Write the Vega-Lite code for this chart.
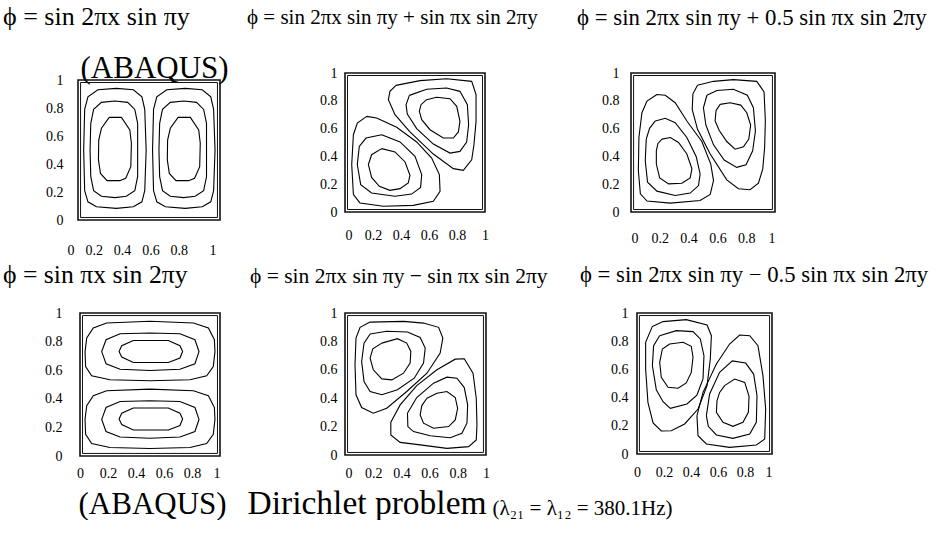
{
  "$schema": "https://vega.github.io/schema/vega-lite/v6.json",
  "background": "white",
  "padding": {"left": 3, "top": 4, "right": 0, "bottom": 0},
  "columns": 3,
  "bounds": "flush",
  "align": {"row": "each", "column": "each"},
  "spacing": {"row": 93, "column": 125},
  "config": {
    "view": {"stroke": null},
    "font": "Liberation Serif",
    "axis": {"labelFont": "Liberation Serif", "labelFontSize": 14, "labelColor": "#000", "ticks": false, "domain": false, "grid": false, "titleFont": "Liberation Serif", "titleFontWeight": "normal", "titleColor": "#000"},
    "title": {"font": "Liberation Serif", "fontWeight": "normal", "color": "#000", "anchor": "start", "frame": "group", "baseline": "alphabetic"}
  },
  "datasets": {
    "p1": [
      {"loop":"a","n":0,"x":0.27,"y":0.94},{"loop":"a","n":1,"x":0.39,"y":0.93},{"loop":"a","n":2,"x":0.45,"y":0.88},{"loop":"a","n":3,"x":0.47,"y":0.79},{"loop":"a","n":4,"x":0.48,"y":0.5},{"loop":"a","n":5,"x":0.47,"y":0.21},{"loop":"a","n":6,"x":0.45,"y":0.13},{"loop":"a","n":7,"x":0.39,"y":0.095},{"loop":"a","n":8,"x":0.27,"y":0.083},{"loop":"a","n":9,"x":0.13,"y":0.095},{"loop":"a","n":10,"x":0.07,"y":0.13},{"loop":"a","n":11,"x":0.047,"y":0.21},{"loop":"a","n":12,"x":0.04,"y":0.5},{"loop":"a","n":13,"x":0.047,"y":0.79},{"loop":"a","n":14,"x":0.07,"y":0.88},{"loop":"a","n":15,"x":0.14,"y":0.93},{"loop":"a","n":16,"x":0.27,"y":0.94},
      {"loop":"b","n":0,"x":0.26,"y":0.85},{"loop":"b","n":1,"x":0.35,"y":0.84},{"loop":"b","n":2,"x":0.4,"y":0.79},{"loop":"b","n":3,"x":0.42,"y":0.69},{"loop":"b","n":4,"x":0.42,"y":0.5},{"loop":"b","n":5,"x":0.42,"y":0.31},{"loop":"b","n":6,"x":0.4,"y":0.21},{"loop":"b","n":7,"x":0.34,"y":0.17},{"loop":"b","n":8,"x":0.26,"y":0.16},{"loop":"b","n":9,"x":0.165,"y":0.17},{"loop":"b","n":10,"x":0.11,"y":0.21},{"loop":"b","n":11,"x":0.09,"y":0.31},{"loop":"b","n":12,"x":0.085,"y":0.5},{"loop":"b","n":13,"x":0.09,"y":0.69},{"loop":"b","n":14,"x":0.11,"y":0.79},{"loop":"b","n":15,"x":0.165,"y":0.84},{"loop":"b","n":16,"x":0.26,"y":0.85},
      {"loop":"c","n":0,"x":0.22,"y":0.733},{"loop":"c","n":1,"x":0.306,"y":0.733},{"loop":"c","n":2,"x":0.365,"y":0.643},{"loop":"c","n":3,"x":0.376,"y":0.548},{"loop":"c","n":4,"x":0.372,"y":0.381},{"loop":"c","n":5,"x":0.336,"y":0.298},{"loop":"c","n":6,"x":0.294,"y":0.281},{"loop":"c","n":7,"x":0.205,"y":0.281},{"loop":"c","n":8,"x":0.158,"y":0.333},{"loop":"c","n":9,"x":0.144,"y":0.429},{"loop":"c","n":10,"x":0.146,"y":0.571},{"loop":"c","n":11,"x":0.165,"y":0.655},{"loop":"c","n":12,"x":0.22,"y":0.733},
      {"loop":"d","n":0,"x":0.755,"y":0.94},{"loop":"d","n":1,"x":0.875,"y":0.93},{"loop":"d","n":2,"x":0.935,"y":0.88},{"loop":"d","n":3,"x":0.955,"y":0.79},{"loop":"d","n":4,"x":0.965,"y":0.5},{"loop":"d","n":5,"x":0.955,"y":0.21},{"loop":"d","n":6,"x":0.935,"y":0.13},{"loop":"d","n":7,"x":0.875,"y":0.095},{"loop":"d","n":8,"x":0.755,"y":0.083},{"loop":"d","n":9,"x":0.615,"y":0.095},{"loop":"d","n":10,"x":0.555,"y":0.13},{"loop":"d","n":11,"x":0.532,"y":0.21},{"loop":"d","n":12,"x":0.525,"y":0.5},{"loop":"d","n":13,"x":0.532,"y":0.79},{"loop":"d","n":14,"x":0.555,"y":0.88},{"loop":"d","n":15,"x":0.625,"y":0.93},{"loop":"d","n":16,"x":0.755,"y":0.94},
      {"loop":"e","n":0,"x":0.745,"y":0.85},{"loop":"e","n":1,"x":0.835,"y":0.84},{"loop":"e","n":2,"x":0.885,"y":0.79},{"loop":"e","n":3,"x":0.905,"y":0.69},{"loop":"e","n":4,"x":0.905,"y":0.5},{"loop":"e","n":5,"x":0.905,"y":0.31},{"loop":"e","n":6,"x":0.885,"y":0.21},{"loop":"e","n":7,"x":0.825,"y":0.17},{"loop":"e","n":8,"x":0.745,"y":0.16},{"loop":"e","n":9,"x":0.65,"y":0.17},{"loop":"e","n":10,"x":0.595,"y":0.21},{"loop":"e","n":11,"x":0.575,"y":0.31},{"loop":"e","n":12,"x":0.57,"y":0.5},{"loop":"e","n":13,"x":0.575,"y":0.69},{"loop":"e","n":14,"x":0.595,"y":0.79},{"loop":"e","n":15,"x":0.65,"y":0.84},{"loop":"e","n":16,"x":0.745,"y":0.85},
      {"loop":"f","n":0,"x":0.705,"y":0.733},{"loop":"f","n":1,"x":0.791,"y":0.733},{"loop":"f","n":2,"x":0.85,"y":0.643},{"loop":"f","n":3,"x":0.861,"y":0.548},{"loop":"f","n":4,"x":0.857,"y":0.381},{"loop":"f","n":5,"x":0.821,"y":0.298},{"loop":"f","n":6,"x":0.779,"y":0.281},{"loop":"f","n":7,"x":0.69,"y":0.281},{"loop":"f","n":8,"x":0.643,"y":0.333},{"loop":"f","n":9,"x":0.629,"y":0.429},{"loop":"f","n":10,"x":0.631,"y":0.571},{"loop":"f","n":11,"x":0.65,"y":0.655},{"loop":"f","n":12,"x":0.705,"y":0.733}
    ],
    "p2": [
      {"loop":"a","n":0,"x":0.155,"y":0.688},{"loop":"a","n":1,"x":0.226,"y":0.676},{"loop":"a","n":2,"x":0.369,"y":0.609},{"loop":"a","n":3,"x":0.512,"y":0.504},{"loop":"a","n":4,"x":0.619,"y":0.388},{"loop":"a","n":5,"x":0.674,"y":0.269},{"loop":"a","n":6,"x":0.679,"y":0.149},{"loop":"a","n":7,"x":0.631,"y":0.077},{"loop":"a","n":8,"x":0.488,"y":0.048},{"loop":"a","n":9,"x":0.274,"y":0.041},{"loop":"a","n":10,"x":0.107,"y":0.065},{"loop":"a","n":11,"x":0.06,"y":0.125},{"loop":"a","n":12,"x":0.048,"y":0.341},{"loop":"a","n":13,"x":0.06,"y":0.556},{"loop":"a","n":14,"x":0.088,"y":0.64},{"loop":"a","n":15,"x":0.155,"y":0.688},
      {"loop":"b","n":0,"x":0.262,"y":0.556},{"loop":"b","n":1,"x":0.393,"y":0.504},{"loop":"b","n":2,"x":0.5,"y":0.4},{"loop":"b","n":3,"x":0.548,"y":0.269},{"loop":"b","n":4,"x":0.54,"y":0.177},{"loop":"b","n":5,"x":0.476,"y":0.129},{"loop":"b","n":6,"x":0.357,"y":0.113},{"loop":"b","n":7,"x":0.19,"y":0.137},{"loop":"b","n":8,"x":0.112,"y":0.197},{"loop":"b","n":9,"x":0.088,"y":0.341},{"loop":"b","n":10,"x":0.102,"y":0.472},{"loop":"b","n":11,"x":0.15,"y":0.532},{"loop":"b","n":12,"x":0.262,"y":0.556},
      {"loop":"c","n":0,"x":0.262,"y":0.456},{"loop":"c","n":1,"x":0.357,"y":0.432},{"loop":"c","n":2,"x":0.429,"y":0.36},{"loop":"c","n":3,"x":0.464,"y":0.264},{"loop":"c","n":4,"x":0.452,"y":0.209},{"loop":"c","n":5,"x":0.393,"y":0.168},{"loop":"c","n":6,"x":0.321,"y":0.156},{"loop":"c","n":7,"x":0.245,"y":0.185},{"loop":"c","n":8,"x":0.19,"y":0.249},{"loop":"c","n":9,"x":0.167,"y":0.341},{"loop":"c","n":10,"x":0.19,"y":0.412},{"loop":"c","n":11,"x":0.262,"y":0.456},
      {"loop":"d","n":0,"x":0.364,"y":0.911},{"loop":"d","n":1,"x":0.536,"y":0.945},{"loop":"d","n":2,"x":0.726,"y":0.959},{"loop":"d","n":3,"x":0.905,"y":0.94},{"loop":"d","n":4,"x":0.936,"y":0.844},{"loop":"d","n":5,"x":0.936,"y":0.652},{"loop":"d","n":6,"x":0.921,"y":0.484},{"loop":"d","n":7,"x":0.905,"y":0.376},{"loop":"d","n":8,"x":0.845,"y":0.3},{"loop":"d","n":9,"x":0.774,"y":0.312},{"loop":"d","n":10,"x":0.631,"y":0.417},{"loop":"d","n":11,"x":0.464,"y":0.576},{"loop":"d","n":12,"x":0.357,"y":0.7},{"loop":"d","n":13,"x":0.31,"y":0.808},{"loop":"d","n":14,"x":0.321,"y":0.868},{"loop":"d","n":15,"x":0.364,"y":0.911},
      {"loop":"e","n":0,"x":0.46,"y":0.839},{"loop":"e","n":1,"x":0.583,"y":0.883},{"loop":"e","n":2,"x":0.726,"y":0.892},{"loop":"e","n":3,"x":0.821,"y":0.868},{"loop":"e","n":4,"x":0.874,"y":0.772},{"loop":"e","n":5,"x":0.883,"y":0.628},{"loop":"e","n":6,"x":0.869,"y":0.504},{"loop":"e","n":7,"x":0.821,"y":0.436},{"loop":"e","n":8,"x":0.75,"y":0.424},{"loop":"e","n":9,"x":0.631,"y":0.489},{"loop":"e","n":10,"x":0.512,"y":0.6},{"loop":"e","n":11,"x":0.445,"y":0.705},{"loop":"e","n":12,"x":0.436,"y":0.772},{"loop":"e","n":13,"x":0.46,"y":0.839},
      {"loop":"f","n":0,"x":0.583,"y":0.808},{"loop":"f","n":1,"x":0.655,"y":0.825},{"loop":"f","n":2,"x":0.75,"y":0.815},{"loop":"f","n":3,"x":0.798,"y":0.76},{"loop":"f","n":4,"x":0.821,"y":0.652},{"loop":"f","n":5,"x":0.81,"y":0.576},{"loop":"f","n":6,"x":0.774,"y":0.532},{"loop":"f","n":7,"x":0.702,"y":0.532},{"loop":"f","n":8,"x":0.607,"y":0.592},{"loop":"f","n":9,"x":0.548,"y":0.664},{"loop":"f","n":10,"x":0.531,"y":0.724},{"loop":"f","n":11,"x":0.543,"y":0.772},{"loop":"f","n":12,"x":0.583,"y":0.808}
    ],
    "p3": [
      {"loop":"a","n":0,"x":0.18,"y":0.845},{"loop":"a","n":1,"x":0.238,"y":0.84},{"loop":"a","n":2,"x":0.307,"y":0.786},{"loop":"a","n":3,"x":0.388,"y":0.655},{"loop":"a","n":4,"x":0.492,"y":0.507},{"loop":"a","n":5,"x":0.554,"y":0.345},{"loop":"a","n":6,"x":0.573,"y":0.226},{"loop":"a","n":7,"x":0.55,"y":0.126},{"loop":"a","n":8,"x":0.48,"y":0.083},{"loop":"a","n":9,"x":0.273,"y":0.064},{"loop":"a","n":10,"x":0.111,"y":0.079},{"loop":"a","n":11,"x":0.065,"y":0.131},{"loop":"a","n":12,"x":0.051,"y":0.298},{"loop":"a","n":13,"x":0.055,"y":0.536},{"loop":"a","n":14,"x":0.076,"y":0.714},{"loop":"a","n":15,"x":0.111,"y":0.798},{"loop":"a","n":16,"x":0.18,"y":0.845},
      {"loop":"b","n":0,"x":0.169,"y":0.655},{"loop":"b","n":1,"x":0.238,"y":0.674},{"loop":"b","n":2,"x":0.307,"y":0.643},{"loop":"b","n":3,"x":0.388,"y":0.536},{"loop":"b","n":4,"x":0.453,"y":0.398},{"loop":"b","n":5,"x":0.48,"y":0.274},{"loop":"b","n":6,"x":0.469,"y":0.19},{"loop":"b","n":7,"x":0.411,"y":0.136},{"loop":"b","n":8,"x":0.307,"y":0.119},{"loop":"b","n":9,"x":0.18,"y":0.15},{"loop":"b","n":10,"x":0.115,"y":0.214},{"loop":"b","n":11,"x":0.099,"y":0.369},{"loop":"b","n":12,"x":0.106,"y":0.524},{"loop":"b","n":13,"x":0.129,"y":0.602},{"loop":"b","n":14,"x":0.169,"y":0.655},
      {"loop":"c","n":0,"x":0.215,"y":0.524},{"loop":"c","n":1,"x":0.273,"y":0.536},{"loop":"c","n":2,"x":0.33,"y":0.5},{"loop":"c","n":3,"x":0.388,"y":0.417},{"loop":"c","n":4,"x":0.423,"y":0.31},{"loop":"c","n":5,"x":0.411,"y":0.245},{"loop":"c","n":6,"x":0.353,"y":0.207},{"loop":"c","n":7,"x":0.261,"y":0.202},{"loop":"c","n":8,"x":0.199,"y":0.245},{"loop":"c","n":9,"x":0.176,"y":0.345},{"loop":"c","n":10,"x":0.176,"y":0.44},{"loop":"c","n":11,"x":0.187,"y":0.493},{"loop":"c","n":12,"x":0.215,"y":0.524},
      {"loop":"d","n":0,"x":0.462,"y":0.912},{"loop":"d","n":1,"x":0.573,"y":0.94},{"loop":"d","n":2,"x":0.711,"y":0.952},{"loop":"d","n":3,"x":0.873,"y":0.94},{"loop":"d","n":4,"x":0.924,"y":0.864},{"loop":"d","n":5,"x":0.933,"y":0.655},{"loop":"d","n":6,"x":0.928,"y":0.464},{"loop":"d","n":7,"x":0.915,"y":0.31},{"loop":"d","n":8,"x":0.885,"y":0.207},{"loop":"d","n":9,"x":0.827,"y":0.16},{"loop":"d","n":10,"x":0.746,"y":0.167},{"loop":"d","n":11,"x":0.665,"y":0.231},{"loop":"d","n":12,"x":0.55,"y":0.417},{"loop":"d","n":13,"x":0.462,"y":0.595},{"loop":"d","n":14,"x":0.425,"y":0.738},{"loop":"d","n":15,"x":0.43,"y":0.85},{"loop":"d","n":16,"x":0.462,"y":0.912},
      {"loop":"e","n":0,"x":0.527,"y":0.84},{"loop":"e","n":1,"x":0.596,"y":0.874},{"loop":"e","n":2,"x":0.711,"y":0.883},{"loop":"e","n":3,"x":0.808,"y":0.84},{"loop":"e","n":4,"x":0.85,"y":0.75},{"loop":"e","n":5,"x":0.864,"y":0.583},{"loop":"e","n":6,"x":0.845,"y":0.44},{"loop":"e","n":7,"x":0.799,"y":0.34},{"loop":"e","n":8,"x":0.734,"y":0.321},{"loop":"e","n":9,"x":0.647,"y":0.374},{"loop":"e","n":10,"x":0.573,"y":0.483},{"loop":"e","n":11,"x":0.52,"y":0.626},{"loop":"e","n":12,"x":0.503,"y":0.75},{"loop":"e","n":13,"x":0.527,"y":0.84},
      {"loop":"f","n":0,"x":0.619,"y":0.774},{"loop":"f","n":1,"x":0.688,"y":0.786},{"loop":"f","n":2,"x":0.762,"y":0.769},{"loop":"f","n":3,"x":0.804,"y":0.714},{"loop":"f","n":4,"x":0.831,"y":0.626},{"loop":"f","n":5,"x":0.818,"y":0.524},{"loop":"f","n":6,"x":0.781,"y":0.469},{"loop":"f","n":7,"x":0.723,"y":0.452},{"loop":"f","n":8,"x":0.665,"y":0.507},{"loop":"f","n":9,"x":0.612,"y":0.588},{"loop":"f","n":10,"x":0.584,"y":0.655},{"loop":"f","n":11,"x":0.591,"y":0.731},{"loop":"f","n":12,"x":0.619,"y":0.774}
    ],
    "p4": [
      {"loop":"a","n":0,"x":0.5,"y":0.942},{"loop":"a","n":1,"x":0.81,"y":0.93},{"loop":"a","n":2,"x":0.917,"y":0.895},{"loop":"a","n":3,"x":0.96,"y":0.813},{"loop":"a","n":4,"x":0.964,"y":0.73},{"loop":"a","n":5,"x":0.952,"y":0.626},{"loop":"a","n":6,"x":0.905,"y":0.561},{"loop":"a","n":7,"x":0.786,"y":0.533},{"loop":"a","n":8,"x":0.5,"y":0.526},{"loop":"a","n":9,"x":0.214,"y":0.533},{"loop":"a","n":10,"x":0.083,"y":0.561},{"loop":"a","n":11,"x":0.04,"y":0.626},{"loop":"a","n":12,"x":0.036,"y":0.73},{"loop":"a","n":13,"x":0.048,"y":0.825},{"loop":"a","n":14,"x":0.095,"y":0.895},{"loop":"a","n":15,"x":0.19,"y":0.93},{"loop":"a","n":16,"x":0.5,"y":0.942},
      {"loop":"b","n":0,"x":0.5,"y":0.86},{"loop":"b","n":1,"x":0.714,"y":0.855},{"loop":"b","n":2,"x":0.821,"y":0.813},{"loop":"b","n":3,"x":0.85,"y":0.73},{"loop":"b","n":4,"x":0.821,"y":0.645},{"loop":"b","n":5,"x":0.714,"y":0.607},{"loop":"b","n":6,"x":0.5,"y":0.598},{"loop":"b","n":7,"x":0.286,"y":0.607},{"loop":"b","n":8,"x":0.186,"y":0.645},{"loop":"b","n":9,"x":0.155,"y":0.73},{"loop":"b","n":10,"x":0.186,"y":0.813},{"loop":"b","n":11,"x":0.286,"y":0.855},{"loop":"b","n":12,"x":0.5,"y":0.86},
      {"loop":"c","n":0,"x":0.381,"y":0.808},{"loop":"c","n":1,"x":0.631,"y":0.808},{"loop":"c","n":2,"x":0.714,"y":0.771},{"loop":"c","n":3,"x":0.733,"y":0.731},{"loop":"c","n":4,"x":0.714,"y":0.685},{"loop":"c","n":5,"x":0.631,"y":0.654},{"loop":"c","n":6,"x":0.381,"y":0.654},{"loop":"c","n":7,"x":0.298,"y":0.692},{"loop":"c","n":8,"x":0.279,"y":0.731},{"loop":"c","n":9,"x":0.298,"y":0.771},{"loop":"c","n":10,"x":0.381,"y":0.808},
      {"loop":"d","n":0,"x":0.5,"y":0.468},{"loop":"d","n":1,"x":0.81,"y":0.456},{"loop":"d","n":2,"x":0.917,"y":0.421},{"loop":"d","n":3,"x":0.96,"y":0.339},{"loop":"d","n":4,"x":0.964,"y":0.256},{"loop":"d","n":5,"x":0.952,"y":0.152},{"loop":"d","n":6,"x":0.905,"y":0.087},{"loop":"d","n":7,"x":0.786,"y":0.059},{"loop":"d","n":8,"x":0.5,"y":0.052},{"loop":"d","n":9,"x":0.214,"y":0.059},{"loop":"d","n":10,"x":0.083,"y":0.087},{"loop":"d","n":11,"x":0.04,"y":0.152},{"loop":"d","n":12,"x":0.036,"y":0.256},{"loop":"d","n":13,"x":0.048,"y":0.351},{"loop":"d","n":14,"x":0.095,"y":0.421},{"loop":"d","n":15,"x":0.19,"y":0.456},{"loop":"d","n":16,"x":0.5,"y":0.468},
      {"loop":"e","n":0,"x":0.5,"y":0.386},{"loop":"e","n":1,"x":0.714,"y":0.381},{"loop":"e","n":2,"x":0.821,"y":0.339},{"loop":"e","n":3,"x":0.85,"y":0.256},{"loop":"e","n":4,"x":0.821,"y":0.171},{"loop":"e","n":5,"x":0.714,"y":0.133},{"loop":"e","n":6,"x":0.5,"y":0.124},{"loop":"e","n":7,"x":0.286,"y":0.133},{"loop":"e","n":8,"x":0.186,"y":0.171},{"loop":"e","n":9,"x":0.155,"y":0.256},{"loop":"e","n":10,"x":0.186,"y":0.339},{"loop":"e","n":11,"x":0.286,"y":0.381},{"loop":"e","n":12,"x":0.5,"y":0.386},
      {"loop":"f","n":0,"x":0.381,"y":0.336},{"loop":"f","n":1,"x":0.631,"y":0.336},{"loop":"f","n":2,"x":0.714,"y":0.299},{"loop":"f","n":3,"x":0.733,"y":0.259},{"loop":"f","n":4,"x":0.714,"y":0.213},{"loop":"f","n":5,"x":0.631,"y":0.182},{"loop":"f","n":6,"x":0.381,"y":0.182},{"loop":"f","n":7,"x":0.298,"y":0.22},{"loop":"f","n":8,"x":0.279,"y":0.259},{"loop":"f","n":9,"x":0.298,"y":0.299},{"loop":"f","n":10,"x":0.381,"y":0.336}
    ],
    "p5": [
      {"loop":"a","n":0,"x":0.178,"y":0.936},{"loop":"a","n":1,"x":0.415,"y":0.941},{"loop":"a","n":2,"x":0.557,"y":0.929},{"loop":"a","n":3,"x":0.664,"y":0.899},{"loop":"a","n":4,"x":0.694,"y":0.824},{"loop":"a","n":5,"x":0.675,"y":0.718},{"loop":"a","n":6,"x":0.581,"y":0.576},{"loop":"a","n":7,"x":0.438,"y":0.447},{"loop":"a","n":8,"x":0.296,"y":0.329},{"loop":"a","n":9,"x":0.201,"y":0.294},{"loop":"a","n":10,"x":0.118,"y":0.334},{"loop":"a","n":11,"x":0.078,"y":0.424},{"loop":"a","n":12,"x":0.071,"y":0.635},{"loop":"a","n":13,"x":0.078,"y":0.824},{"loop":"a","n":14,"x":0.107,"y":0.899},{"loop":"a","n":15,"x":0.178,"y":0.936},
      {"loop":"b","n":0,"x":0.178,"y":0.852},{"loop":"b","n":1,"x":0.296,"y":0.871},{"loop":"b","n":2,"x":0.443,"y":0.866},{"loop":"b","n":3,"x":0.533,"y":0.828},{"loop":"b","n":4,"x":0.569,"y":0.753},{"loop":"b","n":5,"x":0.557,"y":0.647},{"loop":"b","n":6,"x":0.491,"y":0.541},{"loop":"b","n":7,"x":0.372,"y":0.459},{"loop":"b","n":8,"x":0.261,"y":0.424},{"loop":"b","n":9,"x":0.178,"y":0.447},{"loop":"b","n":10,"x":0.135,"y":0.518},{"loop":"b","n":11,"x":0.118,"y":0.659},{"loop":"b","n":12,"x":0.135,"y":0.788},{"loop":"b","n":13,"x":0.178,"y":0.852},
      {"loop":"c","n":0,"x":0.261,"y":0.788},{"loop":"c","n":1,"x":0.372,"y":0.819},{"loop":"c","n":2,"x":0.438,"y":0.788},{"loop":"c","n":3,"x":0.467,"y":0.729},{"loop":"c","n":4,"x":0.462,"y":0.647},{"loop":"c","n":5,"x":0.415,"y":0.576},{"loop":"c","n":6,"x":0.332,"y":0.529},{"loop":"c","n":7,"x":0.261,"y":0.536},{"loop":"c","n":8,"x":0.201,"y":0.6},{"loop":"c","n":9,"x":0.178,"y":0.682},{"loop":"c","n":10,"x":0.197,"y":0.748},{"loop":"c","n":11,"x":0.261,"y":0.788},
      {"loop":"d","n":0,"x":0.325,"y":0.231},{"loop":"d","n":1,"x":0.391,"y":0.353},{"loop":"d","n":2,"x":0.509,"y":0.489},{"loop":"d","n":3,"x":0.652,"y":0.6},{"loop":"d","n":4,"x":0.782,"y":0.675},{"loop":"d","n":5,"x":0.846,"y":0.678},{"loop":"d","n":6,"x":0.908,"y":0.576},{"loop":"d","n":7,"x":0.931,"y":0.4},{"loop":"d","n":8,"x":0.936,"y":0.212},{"loop":"d","n":9,"x":0.931,"y":0.106},{"loop":"d","n":10,"x":0.877,"y":0.059},{"loop":"d","n":11,"x":0.723,"y":0.047},{"loop":"d","n":12,"x":0.533,"y":0.071},{"loop":"d","n":13,"x":0.391,"y":0.089},{"loop":"d","n":14,"x":0.325,"y":0.141},{"loop":"d","n":15,"x":0.325,"y":0.231},
      {"loop":"e","n":0,"x":0.443,"y":0.294},{"loop":"e","n":1,"x":0.509,"y":0.405},{"loop":"e","n":2,"x":0.628,"y":0.506},{"loop":"e","n":3,"x":0.723,"y":0.548},{"loop":"e","n":4,"x":0.794,"y":0.541},{"loop":"e","n":5,"x":0.846,"y":0.475},{"loop":"e","n":6,"x":0.87,"y":0.353},{"loop":"e","n":7,"x":0.865,"y":0.224},{"loop":"e","n":8,"x":0.829,"y":0.153},{"loop":"e","n":9,"x":0.746,"y":0.122},{"loop":"e","n":10,"x":0.604,"y":0.136},{"loop":"e","n":11,"x":0.486,"y":0.165},{"loop":"e","n":12,"x":0.446,"y":0.2},{"loop":"e","n":13,"x":0.443,"y":0.294},
      {"loop":"f","n":0,"x":0.581,"y":0.4},{"loop":"f","n":1,"x":0.652,"y":0.435},{"loop":"f","n":2,"x":0.723,"y":0.447},{"loop":"f","n":3,"x":0.782,"y":0.405},{"loop":"f","n":4,"x":0.799,"y":0.329},{"loop":"f","n":5,"x":0.782,"y":0.247},{"loop":"f","n":6,"x":0.735,"y":0.2},{"loop":"f","n":7,"x":0.628,"y":0.188},{"loop":"f","n":8,"x":0.557,"y":0.224},{"loop":"f","n":9,"x":0.533,"y":0.282},{"loop":"f","n":10,"x":0.545,"y":0.348},{"loop":"f","n":11,"x":0.581,"y":0.4}
    ],
    "p6": [
      {"loop":"a","n":0,"x":0.114,"y":0.905},{"loop":"a","n":1,"x":0.193,"y":0.939},{"loop":"a","n":2,"x":0.365,"y":0.953},{"loop":"a","n":3,"x":0.519,"y":0.915},{"loop":"a","n":4,"x":0.551,"y":0.839},{"loop":"a","n":5,"x":0.543,"y":0.674},{"loop":"a","n":6,"x":0.519,"y":0.485},{"loop":"a","n":7,"x":0.452,"y":0.319},{"loop":"a","n":8,"x":0.353,"y":0.213},{"loop":"a","n":9,"x":0.254,"y":0.165},{"loop":"a","n":10,"x":0.18,"y":0.163},{"loop":"a","n":11,"x":0.119,"y":0.22},{"loop":"a","n":12,"x":0.081,"y":0.366},{"loop":"a","n":13,"x":0.064,"y":0.603},{"loop":"a","n":14,"x":0.064,"y":0.792},{"loop":"a","n":15,"x":0.114,"y":0.905},
      {"loop":"b","n":0,"x":0.168,"y":0.839},{"loop":"b","n":1,"x":0.291,"y":0.875},{"loop":"b","n":2,"x":0.415,"y":0.868},{"loop":"b","n":3,"x":0.469,"y":0.816},{"loop":"b","n":4,"x":0.496,"y":0.697},{"loop":"b","n":5,"x":0.489,"y":0.532},{"loop":"b","n":6,"x":0.444,"y":0.418},{"loop":"b","n":7,"x":0.37,"y":0.355},{"loop":"b","n":8,"x":0.247,"y":0.324},{"loop":"b","n":9,"x":0.193,"y":0.371},{"loop":"b","n":10,"x":0.143,"y":0.456},{"loop":"b","n":11,"x":0.114,"y":0.626},{"loop":"b","n":12,"x":0.123,"y":0.768},{"loop":"b","n":13,"x":0.168,"y":0.839},
      {"loop":"c","n":0,"x":0.242,"y":0.78},{"loop":"c","n":1,"x":0.341,"y":0.792},{"loop":"c","n":2,"x":0.402,"y":0.764},{"loop":"c","n":3,"x":0.415,"y":0.686},{"loop":"c","n":4,"x":0.402,"y":0.579},{"loop":"c","n":5,"x":0.365,"y":0.504},{"loop":"c","n":6,"x":0.304,"y":0.466},{"loop":"c","n":7,"x":0.23,"y":0.473},{"loop":"c","n":8,"x":0.18,"y":0.544},{"loop":"c","n":9,"x":0.168,"y":0.65},{"loop":"c","n":10,"x":0.188,"y":0.745},{"loop":"c","n":11,"x":0.242,"y":0.78},
      {"loop":"d","n":0,"x":0.444,"y":0.272},{"loop":"d","n":1,"x":0.489,"y":0.437},{"loop":"d","n":2,"x":0.588,"y":0.638},{"loop":"d","n":3,"x":0.686,"y":0.78},{"loop":"d","n":4,"x":0.76,"y":0.844},{"loop":"d","n":5,"x":0.835,"y":0.839},{"loop":"d","n":6,"x":0.896,"y":0.768},{"loop":"d","n":7,"x":0.933,"y":0.556},{"loop":"d","n":8,"x":0.953,"y":0.319},{"loop":"d","n":9,"x":0.946,"y":0.106},{"loop":"d","n":10,"x":0.884,"y":0.064},{"loop":"d","n":11,"x":0.686,"y":0.047},{"loop":"d","n":12,"x":0.514,"y":0.071},{"loop":"d","n":13,"x":0.452,"y":0.13},{"loop":"d","n":14,"x":0.444,"y":0.272},
      {"loop":"e","n":0,"x":0.514,"y":0.272},{"loop":"e","n":1,"x":0.538,"y":0.426},{"loop":"e","n":2,"x":0.612,"y":0.579},{"loop":"e","n":3,"x":0.706,"y":0.66},{"loop":"e","n":4,"x":0.805,"y":0.645},{"loop":"e","n":5,"x":0.864,"y":0.567},{"loop":"e","n":6,"x":0.889,"y":0.414},{"loop":"e","n":7,"x":0.884,"y":0.225},{"loop":"e","n":8,"x":0.835,"y":0.142},{"loop":"e","n":9,"x":0.711,"y":0.111},{"loop":"e","n":10,"x":0.588,"y":0.135},{"loop":"e","n":11,"x":0.528,"y":0.196},{"loop":"e","n":12,"x":0.514,"y":0.272},
      {"loop":"f","n":0,"x":0.649,"y":0.485},{"loop":"f","n":1,"x":0.723,"y":0.532},{"loop":"f","n":2,"x":0.798,"y":0.508},{"loop":"f","n":3,"x":0.83,"y":0.409},{"loop":"f","n":4,"x":0.825,"y":0.296},{"loop":"f","n":5,"x":0.785,"y":0.225},{"loop":"f","n":6,"x":0.711,"y":0.196},{"loop":"f","n":7,"x":0.637,"y":0.225},{"loop":"f","n":8,"x":0.588,"y":0.296},{"loop":"f","n":9,"x":0.593,"y":0.378},{"loop":"f","n":10,"x":0.612,"y":0.437},{"loop":"f","n":11,"x":0.649,"y":0.485}
    ]
  },
  "concat": [
    {
      "width": 142, "height": 147,
      "title": {"text": "ϕ = sin 2πx sin πy", "fontSize": 26, "dx": -75, "offset": 22},
      "layer": [
        {"data": {"values": [{}]}, "mark": {"type": "rect", "filled": false, "color": "#111", "strokeWidth": 1.6},
         "encoding": {
           "x": {"datum": 0, "type": "quantitative", "scale": {"domain": [0, 1], "nice": false}, "axis": {"values": [0, 0.2, 0.4, 0.6, 0.8, 1], "format": "~g", "title": null, "labelPadding": 23, "labelAlign": "right", "labelOffset": -4}},
           "x2": {"datum": 1},
           "y": {"datum": 0, "type": "quantitative", "scale": {"domain": [0, 1.05], "nice": false}, "axis": {"values": [0, 0.2, 0.4, 0.6, 0.8, 1], "format": "~g", "labelPadding": 15, "title": "(ABAQUS)", "titleAngle": 0, "titleFontSize": 31, "titleAlign": "left", "titleBaseline": "alphabetic", "titleX": 2, "titleY": 4}},
           "y2": {"datum": 1}}},
        {"data": {"values": [{}]}, "mark": {"type": "rect", "filled": false, "color": "#111", "strokeWidth": 1},
         "encoding": {
           "x": {"datum": 0.018, "type": "quantitative", "scale": {"domain": [0, 1], "nice": false}, "axis": {"values": [0, 0.2, 0.4, 0.6, 0.8, 1], "format": "~g", "title": null, "labelPadding": 23, "labelAlign": "right", "labelOffset": -4}},
           "x2": {"datum": 0.982},
           "y": {"datum": 0.018, "type": "quantitative", "scale": {"domain": [0, 1.05], "nice": false}, "axis": {"values": [0, 0.2, 0.4, 0.6, 0.8, 1], "format": "~g", "labelPadding": 15, "title": "(ABAQUS)", "titleAngle": 0, "titleFontSize": 31, "titleAlign": "left", "titleBaseline": "alphabetic", "titleX": 2, "titleY": 4}},
           "y2": {"datum": 0.982}}},
        {"data": {"name": "p1"}, "mark": {"type": "line", "color": "#000", "strokeWidth": 1.1},
         "encoding": {
           "x": {"field": "x", "type": "quantitative", "scale": {"domain": [0, 1], "nice": false}, "axis": {"values": [0, 0.2, 0.4, 0.6, 0.8, 1], "format": "~g", "title": null, "labelPadding": 23, "labelAlign": "right", "labelOffset": -4}},
           "y": {"field": "y", "type": "quantitative", "scale": {"domain": [0, 1.05], "nice": false}, "axis": {"values": [0, 0.2, 0.4, 0.6, 0.8, 1], "format": "~g", "labelPadding": 15, "title": "(ABAQUS)", "titleAngle": 0, "titleFontSize": 31, "titleAlign": "left", "titleBaseline": "alphabetic", "titleX": 2, "titleY": 4}},
           "detail": {"field": "loop"}, "order": {"field": "n"}}}
      ]
    },
    {
      "width": 161, "height": 139,
      "title": {"text": "ϕ = sin 2πx sin πy + sin πx sin 2πy", "fontSize": 21, "dx": -98, "offset": 38},
      "layer": [
        {"data": {"values": [{}]}, "mark": {"type": "rect", "filled": false, "color": "#111", "strokeWidth": 1.6},
         "encoding": {
           "x": {"datum": 0, "type": "quantitative", "scale": {"domain": [0, 1.15], "nice": false}, "axis": {"values": [0, 0.2, 0.4, 0.6, 0.8, 1], "format": "~g", "title": null, "labelPadding": 16}},
           "x2": {"datum": 1},
           "y": {"datum": 0, "type": "quantitative", "scale": {"domain": [0, 1], "nice": false}, "axis": {"values": [0, 0.2, 0.4, 0.6, 0.8, 1], "format": "~g", "title": null, "labelPadding": 8}},
           "y2": {"datum": 1}}},
        {"data": {"values": [{}]}, "mark": {"type": "rect", "filled": false, "color": "#111", "strokeWidth": 1},
         "encoding": {
           "x": {"datum": 0.018, "type": "quantitative", "scale": {"domain": [0, 1.15], "nice": false}, "axis": {"values": [0, 0.2, 0.4, 0.6, 0.8, 1], "format": "~g", "title": null, "labelPadding": 16}},
           "x2": {"datum": 0.982},
           "y": {"datum": 0.018, "type": "quantitative", "scale": {"domain": [0, 1], "nice": false}, "axis": {"values": [0, 0.2, 0.4, 0.6, 0.8, 1], "format": "~g", "title": null, "labelPadding": 8}},
           "y2": {"datum": 0.982}}},
        {"data": {"name": "p2"}, "mark": {"type": "line", "color": "#000", "strokeWidth": 1.1},
         "encoding": {
           "x": {"field": "x", "type": "quantitative", "scale": {"domain": [0, 1.15], "nice": false}, "axis": {"values": [0, 0.2, 0.4, 0.6, 0.8, 1], "format": "~g", "title": null, "labelPadding": 16}},
           "y": {"field": "y", "type": "quantitative", "scale": {"domain": [0, 1], "nice": false}, "axis": {"values": [0, 0.2, 0.4, 0.6, 0.8, 1], "format": "~g", "title": null, "labelPadding": 8}},
           "detail": {"field": "loop"}, "order": {"field": "n"}}}
      ]
    },
    {
      "width": 144, "height": 139,
      "title": {"text": "ϕ = sin 2πx sin πy + 0.5 sin πx sin 2πy", "fontSize": 22.8, "dx": -54, "offset": 36},
      "layer": [
        {"data": {"values": [{}]}, "mark": {"type": "rect", "filled": false, "color": "#111", "strokeWidth": 1.6},
         "encoding": {
           "x": {"datum": 0, "type": "quantitative", "scale": {"domain": [0, 1], "nice": false}, "axis": {"values": [0, 0.2, 0.4, 0.6, 0.8, 1], "format": "~g", "title": null, "labelPadding": 19}},
           "x2": {"datum": 1},
           "y": {"datum": 0, "type": "quantitative", "scale": {"domain": [0, 1], "nice": false}, "axis": {"values": [0, 0.2, 0.4, 0.6, 0.8, 1], "format": "~g", "title": null, "labelPadding": 12}},
           "y2": {"datum": 1}}},
        {"data": {"values": [{}]}, "mark": {"type": "rect", "filled": false, "color": "#111", "strokeWidth": 1},
         "encoding": {
           "x": {"datum": 0.018, "type": "quantitative", "scale": {"domain": [0, 1], "nice": false}, "axis": {"values": [0, 0.2, 0.4, 0.6, 0.8, 1], "format": "~g", "title": null, "labelPadding": 19}},
           "x2": {"datum": 0.982},
           "y": {"datum": 0.018, "type": "quantitative", "scale": {"domain": [0, 1], "nice": false}, "axis": {"values": [0, 0.2, 0.4, 0.6, 0.8, 1], "format": "~g", "title": null, "labelPadding": 12}},
           "y2": {"datum": 0.982}}},
        {"data": {"name": "p3"}, "mark": {"type": "line", "color": "#000", "strokeWidth": 1.1},
         "encoding": {
           "x": {"field": "x", "type": "quantitative", "scale": {"domain": [0, 1], "nice": false}, "axis": {"values": [0, 0.2, 0.4, 0.6, 0.8, 1], "format": "~g", "title": null, "labelPadding": 19}},
           "y": {"field": "y", "type": "quantitative", "scale": {"domain": [0, 1], "nice": false}, "axis": {"values": [0, 0.2, 0.4, 0.6, 0.8, 1], "format": "~g", "title": null, "labelPadding": 12}},
           "detail": {"field": "loop"}, "order": {"field": "n"}}}
      ]
    },
    {
      "width": 142, "height": 143,
      "title": {"text": "ϕ = sin πx sin 2πy", "fontSize": 25.7, "dx": -75, "offset": 17},
      "layer": [
        {"data": {"values": [{}]}, "mark": {"type": "rect", "filled": false, "color": "#111", "strokeWidth": 1.6},
         "encoding": {
           "x": {"datum": 0, "type": "quantitative", "scale": {"domain": [-0.0143, 1], "nice": false}, "axis": {"values": [0, 0.2, 0.4, 0.6, 0.8, 1], "format": "~g", "labelPadding": 10, "title": "(ABAQUS)", "titleFontSize": 31, "titleAnchor": "start", "titleAlign": "left", "titleBaseline": "alphabetic", "titleX": 0, "titleY": 57}},
           "x2": {"datum": 1},
           "y": {"datum": 0, "type": "quantitative", "scale": {"domain": [0, 1], "nice": false}, "axis": {"values": [0, 0.2, 0.4, 0.6, 0.8, 1], "format": "~g", "title": null, "labelPadding": 16}},
           "y2": {"datum": 1}}},
        {"data": {"values": [{}]}, "mark": {"type": "rect", "filled": false, "color": "#111", "strokeWidth": 1},
         "encoding": {
           "x": {"datum": 0.018, "type": "quantitative", "scale": {"domain": [-0.0143, 1], "nice": false}, "axis": {"values": [0, 0.2, 0.4, 0.6, 0.8, 1], "format": "~g", "labelPadding": 10, "title": "(ABAQUS)", "titleFontSize": 31, "titleAnchor": "start", "titleAlign": "left", "titleBaseline": "alphabetic", "titleX": 0, "titleY": 57}},
           "x2": {"datum": 0.982},
           "y": {"datum": 0.018, "type": "quantitative", "scale": {"domain": [0, 1], "nice": false}, "axis": {"values": [0, 0.2, 0.4, 0.6, 0.8, 1], "format": "~g", "title": null, "labelPadding": 16}},
           "y2": {"datum": 0.982}}},
        {"data": {"name": "p4"}, "mark": {"type": "line", "color": "#000", "strokeWidth": 1.1},
         "encoding": {
           "x": {"field": "x", "type": "quantitative", "scale": {"domain": [-0.0143, 1], "nice": false}, "axis": {"values": [0, 0.2, 0.4, 0.6, 0.8, 1], "format": "~g", "labelPadding": 10, "title": "(ABAQUS)", "titleFontSize": 31, "titleAnchor": "start", "titleAlign": "left", "titleBaseline": "alphabetic", "titleX": 0, "titleY": 57}},
           "y": {"field": "y", "type": "quantitative", "scale": {"domain": [0, 1], "nice": false}, "axis": {"values": [0, 0.2, 0.4, 0.6, 0.8, 1], "format": "~g", "title": null, "labelPadding": 16}},
           "detail": {"field": "loop"}, "order": {"field": "n"}}}
      ]
    },
    {
      "width": 161, "height": 142,
      "title": {"text": "ϕ = sin 2πx sin πy − sin πx sin 2πy", "fontSize": 21.5, "dx": -95, "offset": 19},
      "layer": [
        {"data": {"values": [{}]}, "mark": {"type": "rect", "filled": false, "color": "#111", "strokeWidth": 1.6},
         "encoding": {
           "x": {"datum": 0, "type": "quantitative", "scale": {"domain": [0, 1.142], "nice": false}, "axis": {"values": [0, 0.2, 0.4, 0.6, 0.8, 1], "format": "~g", "labelPadding": 11, "title": "Dirichlet problem", "titleFontSize": 33.5, "titleAnchor": "start", "titleAlign": "left", "titleBaseline": "alphabetic", "titleX": -98, "titleY": 58}},
           "x2": {"datum": 1},
           "y": {"datum": 0, "type": "quantitative", "scale": {"domain": [0, 1], "nice": false}, "axis": {"values": [0, 0.2, 0.4, 0.6, 0.8, 1], "format": "~g", "title": null, "labelPadding": 8}},
           "y2": {"datum": 1}}},
        {"data": {"values": [{}]}, "mark": {"type": "rect", "filled": false, "color": "#111", "strokeWidth": 1},
         "encoding": {
           "x": {"datum": 0.018, "type": "quantitative", "scale": {"domain": [0, 1.142], "nice": false}, "axis": {"values": [0, 0.2, 0.4, 0.6, 0.8, 1], "format": "~g", "labelPadding": 11, "title": "Dirichlet problem", "titleFontSize": 33.5, "titleAnchor": "start", "titleAlign": "left", "titleBaseline": "alphabetic", "titleX": -98, "titleY": 58}},
           "x2": {"datum": 0.982},
           "y": {"datum": 0.018, "type": "quantitative", "scale": {"domain": [0, 1], "nice": false}, "axis": {"values": [0, 0.2, 0.4, 0.6, 0.8, 1], "format": "~g", "title": null, "labelPadding": 8}},
           "y2": {"datum": 0.982}}},
        {"data": {"name": "p5"}, "mark": {"type": "line", "color": "#000", "strokeWidth": 1.1},
         "encoding": {
           "x": {"field": "x", "type": "quantitative", "scale": {"domain": [0, 1.142], "nice": false}, "axis": {"values": [0, 0.2, 0.4, 0.6, 0.8, 1], "format": "~g", "labelPadding": 11, "title": "Dirichlet problem", "titleFontSize": 33.5, "titleAnchor": "start", "titleAlign": "left", "titleBaseline": "alphabetic", "titleX": -98, "titleY": 58}},
           "y": {"field": "y", "type": "quantitative", "scale": {"domain": [0, 1], "nice": false}, "axis": {"values": [0, 0.2, 0.4, 0.6, 0.8, 1], "format": "~g", "title": null, "labelPadding": 8}},
           "detail": {"field": "loop"}, "order": {"field": "n"}}}
      ]
    },
    {
      "width": 141, "height": 141,
      "title": {"text": "ϕ = sin 2πx sin πy − 0.5 sin πx sin 2πy", "fontSize": 22.7, "dx": -51, "offset": 19},
      "layer": [
        {"data": {"values": [{}]}, "mark": {"type": "rect", "filled": false, "color": "#111", "strokeWidth": 1.6},
         "encoding": {
           "x": {"datum": 0, "type": "quantitative", "scale": {"domain": [-0.0444, 1], "nice": false}, "axis": {"values": [0, 0.2, 0.4, 0.6, 0.8, 1], "format": "~g", "labelPadding": 11, "title": "(λ₂₁ = λ₁₂ = 380.1Hz)", "titleFontSize": 21, "titleAnchor": "start", "titleAlign": "left", "titleBaseline": "alphabetic", "titleX": -139, "titleY": 60}},
           "x2": {"datum": 1},
           "y": {"datum": 0, "type": "quantitative", "scale": {"domain": [0, 1], "nice": false}, "axis": {"values": [0, 0.2, 0.4, 0.6, 0.8, 1], "format": "~g", "title": null, "labelPadding": 3}},
           "y2": {"datum": 1}}},
        {"data": {"values": [{}]}, "mark": {"type": "rect", "filled": false, "color": "#111", "strokeWidth": 1},
         "encoding": {
           "x": {"datum": 0.018, "type": "quantitative", "scale": {"domain": [-0.0444, 1], "nice": false}, "axis": {"values": [0, 0.2, 0.4, 0.6, 0.8, 1], "format": "~g", "labelPadding": 11, "title": "(λ₂₁ = λ₁₂ = 380.1Hz)", "titleFontSize": 21, "titleAnchor": "start", "titleAlign": "left", "titleBaseline": "alphabetic", "titleX": -139, "titleY": 60}},
           "x2": {"datum": 0.982},
           "y": {"datum": 0.018, "type": "quantitative", "scale": {"domain": [0, 1], "nice": false}, "axis": {"values": [0, 0.2, 0.4, 0.6, 0.8, 1], "format": "~g", "title": null, "labelPadding": 3}},
           "y2": {"datum": 0.982}}},
        {"data": {"name": "p6"}, "mark": {"type": "line", "color": "#000", "strokeWidth": 1.1},
         "encoding": {
           "x": {"field": "x", "type": "quantitative", "scale": {"domain": [-0.0444, 1], "nice": false}, "axis": {"values": [0, 0.2, 0.4, 0.6, 0.8, 1], "format": "~g", "labelPadding": 11, "title": "(λ₂₁ = λ₁₂ = 380.1Hz)", "titleFontSize": 21, "titleAnchor": "start", "titleAlign": "left", "titleBaseline": "alphabetic", "titleX": -139, "titleY": 60}},
           "y": {"field": "y", "type": "quantitative", "scale": {"domain": [0, 1], "nice": false}, "axis": {"values": [0, 0.2, 0.4, 0.6, 0.8, 1], "format": "~g", "title": null, "labelPadding": 3}},
           "detail": {"field": "loop"}, "order": {"field": "n"}}}
      ]
    }
  ]
}
